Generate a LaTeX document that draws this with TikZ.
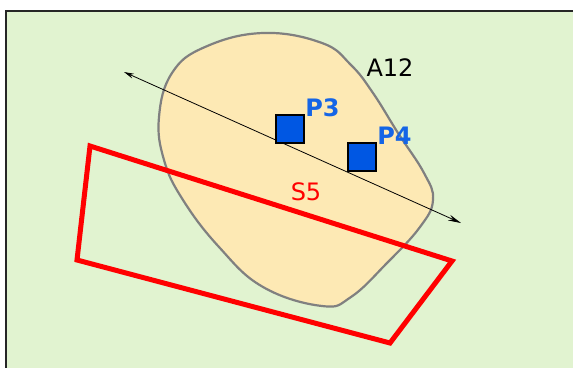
\documentclass[tikz,border=0pt]{standalone}
\usepackage{fontspec}
\setmainfont{DejaVu Sans}
\usetikzlibrary{positioning,arrows.meta}
\definecolor{ground}{HTML}{E1F3D0}
\definecolor{zone}{HTML}{FDE9B4}
\definecolor{ptblue}{HTML}{0057E3}
\definecolor{lblblue}{HTML}{1565E6}

\begin{document}
\begin{tikzpicture}[x=1pt, y=-1pt, every node/.style={font=\fontsize{24}{28}\selectfont}]
\tikzstyle{pt}=[draw=black, line width=2.2pt, fill=ptblue, minimum size=28pt, inner sep=0pt]
\tikzstyle{lbl}=[inner sep=0pt, anchor=south west, text=lblblue, font=\fontsize{24}{28}\selectfont\bfseries]
\useasboundingbox (0,0) rectangle (573,367);
\clip (0,0) rectangle (573,367);
\fill[white] (0,0) rectangle (573,367);
% ground frame
\draw[fill=ground, line width=2.5pt, draw=black!85] (6,11) rectangle (590,390);
% area A12
\draw[fill=zone, draw=gray, line width=2.2pt] plot[smooth cycle, tension=0.7] coordinates {
  (263,33) (205,47) (172,73) (159,117) (164,160) (183,200) (219,247) (263,287)
  (322,306) (351,297) (387,263) (420,227) (433,200) (424,173) (398,133) (373,93)
  (351,65) (322,43)};
\node[anchor=center] (a12) at (390,68) {A12};
% section S5
\draw[red, line width=5pt, line join=miter] (90,146) -- (77,260) -- (390,343) -- (452,261) -- cycle;
\node[red] (s5) at (306,192) {S5};
% axis
\coordinate (ax1) at (124,72);
\coordinate (ax2) at (461,223);
\draw[{Stealth[length=10pt,width=5pt]}-{Stealth[length=13pt,width=6pt]}, line width=0.8pt] (ax1) -- (ax2);
% points
\node[pt] (p3) at (290,129) {};
\node[pt] (p4) at (362,157) {};
\node[lbl] (p3l) at ([yshift=-3pt]p3.north east) {P3};
\node[lbl] (p4l) at ([yshift=-3pt]p4.north east) {P4};
\end{tikzpicture}
\end{document}
